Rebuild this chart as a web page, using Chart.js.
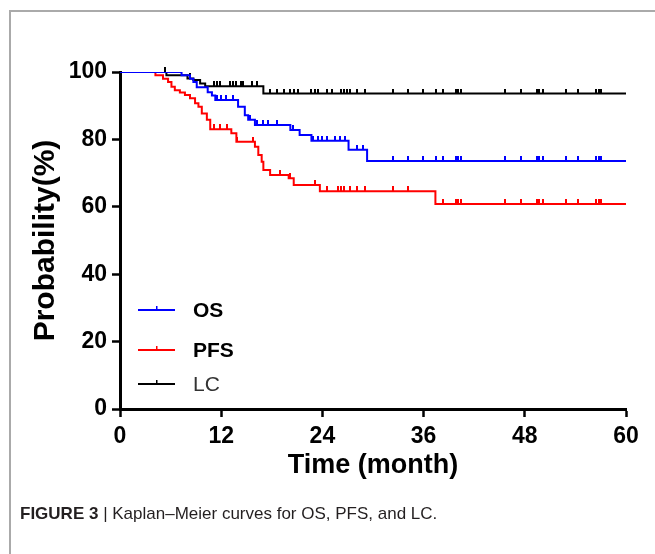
<!DOCTYPE html>
<html>
<head>
<meta charset="utf-8">
<script src="https://cdn.jsdelivr.net/npm/chart.js@4.4.1/dist/chart.umd.min.js"></script>
<style>
  html, body { margin: 0; padding: 0; background: #fff; }
  body { width: 655px; height: 554px; position: relative; overflow: hidden; }
  #frame { position: absolute; left: 9px; top: 10px; width: 700px; height: 600px; border-top: 2px solid #aaa; border-left: 2px solid #aaa; }
  #wrap { position: absolute; left: 0; top: 0; width: 655px; height: 554px; }
  #caption { position: absolute; left: 20px; top: 505px; font-family: "Liberation Sans", Arial, sans-serif; font-size: 17px; line-height: 17px; color: #231f20; white-space: nowrap; }
</style>
</head>
<body>
<div id="frame"></div>
<div id="wrap"><canvas id="kmChart" width="655" height="554"></canvas></div>
<div id="caption"><b>FIGURE 3</b> | Kaplan–Meier curves for OS, PFS, and LC.</div>
<script>
// Datos (meses, supervivencia %)
const xTicks = [0, 12, 24, 36, 48, 60];
const yTicks = [0, 20, 40, 60, 80, 100];

const osTime = [0, 7.3, 8.3, 8.7, 9.1, 10.4, 10.9, 11.3, 14.0, 14.8, 15.2, 16.0, 20.2, 21.3, 22.7, 27.1, 29.3];
const osSurv = [100, 99, 98, 97, 95.5, 94, 93, 91.7, 89.7, 87.2, 85.8, 84.3, 82.8, 81.3, 79.6, 76.9, 73.6];
const osCensor = [11.5, 12.0, 12.6, 13.4, 15.4, 16.2, 17.0, 17.6, 18.6, 20.5, 22.9, 23.5, 24.0, 24.5, 25.5, 26.1, 26.7,
  28.1, 28.8, 32.4, 34.2, 35.9, 37.5, 38.3, 39.8, 40.1, 40.4, 45.7, 47.5, 49.5, 49.7, 50.2, 52.9, 54.3, 56.5, 56.8, 57.0];

const pfsTime = [0, 4.2, 5.1, 5.7, 6.1, 6.5, 7.1, 7.7, 8.3, 8.9, 9.3, 9.7, 10.3, 10.7, 13.2, 13.8, 16.0, 16.4, 16.8, 17.0, 17.8, 20.0, 20.6, 23.7, 37.4];
const pfsSurv = [100, 99, 98, 97, 95.6, 94.6, 93.9, 93.2, 92.2, 90.7, 89.7, 87.7, 85.8, 83, 81.8, 79.3, 77.8, 75.4, 73.4, 70.9, 69.4, 68.5, 66.5, 64.6, 60.8];
const pfsCensor = [11.1, 11.9, 12.7, 13.9, 15.8, 19.0, 20.2, 23.1, 24.5, 25.8, 26.2, 26.6, 27.3, 28.1, 29.1,
  32.4, 34.2, 38.3, 39.8, 40.1, 40.4, 45.7, 47.5, 49.5, 49.7, 50.2, 52.9, 54.3, 56.5, 56.8, 57.0];

const lcTime = [0, 5.5, 8.0, 8.7, 9.5, 10.1, 17.0];
const lcSurv = [100, 99, 98.1, 97.6, 96.6, 95.8, 93.6];
const lcCensor = [5.3, 8.3, 11.1, 11.5, 11.9, 13.0, 13.4, 13.8, 14.4, 14.6, 15.6, 16.2, 17.8, 18.6, 19.4, 20.1, 20.6, 21.1,
  22.7, 23.1, 23.5, 24.5, 25.1, 26.2, 26.6, 26.9, 27.3, 28.1, 29.1, 32.4, 34.2, 35.9, 37.5, 38.3, 39.8, 40.1, 40.4,
  45.7, 47.5, 49.5, 49.7, 50.2, 52.9, 54.3, 56.5, 56.8, 57.0];

const xMax = 60;
const fontFamily = '"Liberation Sans", Arial, sans-serif';

function stepPoints(times, surv) {
    const pts = times.map((t, i) => ({ x: t, y: surv[i] }));
    pts.push({ x: xMax, y: surv[surv.length - 1] });
    return pts;
}

function survAt(times, surv, t) {
    let s = surv[0];
    times.forEach((tt, i) => { if (tt <= t) s = surv[i]; });
    return s;
}

function censorPoints(times, surv, cens) {
    return cens.map(t => ({ x: t, y: survAt(times, surv, t) }));
}

// Marca de censura: pequeño trazo vertical hacia arriba
function tickMark(color) {
    const c = document.createElement('canvas');
    c.width = 2;
    c.height = 10;
    const g = c.getContext('2d');
    g.fillStyle = color;
    g.fillRect(0, 0, 2, 5);
    return c;
}

const series = [
    { label: 'OS', color: '#0000ff', times: osTime, surv: osSurv, cens: osCensor },
    { label: 'PFS', color: '#ff0000', times: pfsTime, surv: pfsSurv, cens: pfsCensor },
    { label: 'LC', color: '#000000', times: lcTime, surv: lcSurv, cens: lcCensor }
];

const datasets = [];
series.forEach((s, i) => {
    datasets.push({
        label: s.label,
        data: stepPoints(s.times, s.surv),
        borderColor: s.color,
        borderWidth: 2,
        stepped: true,
        pointRadius: 0,
        fill: false,
        order: i
    });
    datasets.push({
        label: s.label + ' censored',
        data: censorPoints(s.times, s.surv, s.cens),
        showLine: false,
        pointStyle: tickMark(s.color),
        pointRadius: 5,
        clip: false,
        order: i
    });
});

// Leyenda dibujada dentro del área del gráfico
const kmLegend = {
    id: 'kmLegend',
    afterDatasetsDraw(chart) {
        const ctx = chart.ctx;
        const a = chart.chartArea;
        const rows = [238, 278, 312];
        ctx.save();
        series.forEach((s, i) => {
            const y = a.top + rows[i];
            ctx.strokeStyle = s.color;
            ctx.lineWidth = 2;
            ctx.beginPath();
            ctx.moveTo(a.left + 18, y);
            ctx.lineTo(a.left + 55, y);
            ctx.stroke();
            ctx.fillStyle = s.color;
            ctx.fillRect(a.left + 36, y - 4, 1.5, 4);
            ctx.fillStyle = s.label === 'LC' ? '#333' : '#000';
            ctx.font = (s.label === 'LC' ? '' : 'bold ') + '21px ' + fontFamily;
            ctx.textBaseline = 'middle';
            ctx.fillText(s.label, a.left + 73, y + 1);
        });
        ctx.restore();
    }
};

const ctx = document.getElementById('kmChart').getContext('2d');
new Chart(ctx, {
    type: 'line',
    data: { datasets: datasets },
    plugins: [kmLegend],
    options: {
        responsive: false,
        animation: false,
        events: [],
        layout: { padding: { left: 24, right: 29, top: 72, bottom: 70 } },
        plugins: { legend: { display: false }, tooltip: { enabled: false } },
        scales: {
            x: {
                type: 'linear',
                min: 0,
                max: xMax,
                afterBuildTicks: s => { s.ticks = xTicks.map(v => ({ value: v })); },
                afterFit: s => { s.height = 75; },
                ticks: { color: '#000', font: { family: fontFamily, size: 23, weight: 'bold' }, padding: 6, maxRotation: 0, autoSkip: false },
                grid: { display: true, drawOnChartArea: false, drawTicks: true, tickLength: 8, tickWidth: 2.5, tickColor: '#000' },
                border: { display: true, color: '#000', width: 3 },
                title: { display: true, text: 'Time (month)', color: '#000', font: { family: fontFamily, size: 27, weight: 'bold' }, padding: { top: 0, bottom: 2 } }
            },
            y: {
                type: 'linear',
                min: 0,
                max: 100,
                afterBuildTicks: s => { s.ticks = yTicks.map(v => ({ value: v })); },
                afterFit: s => { s.width = 96; },
                ticks: { color: '#000', font: { family: fontFamily, size: 23, weight: 'bold' }, padding: 5, autoSkip: false },
                grid: { display: true, drawOnChartArea: false, drawTicks: true, tickLength: 8, tickWidth: 2.5, tickColor: '#000' },
                border: { display: true, color: '#000', width: 3 },
                title: { display: true, text: 'Probability(%)', color: '#000', font: { family: fontFamily, size: 30, weight: 'bold' }, padding: { top: 4, bottom: 4 } }
            }
        }
    }
});
</script>
</body>
</html>
